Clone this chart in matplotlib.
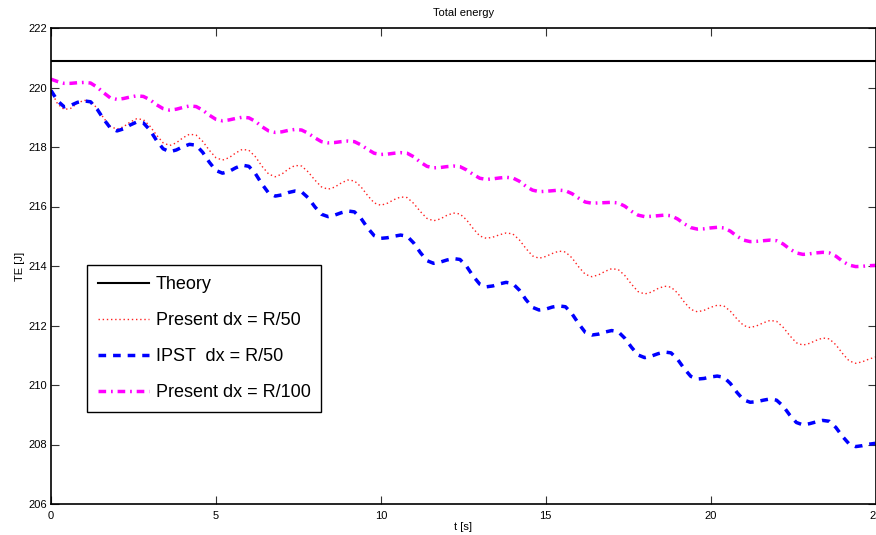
import numpy as np
import matplotlib
matplotlib.use('Agg')
import matplotlib.pyplot as plt

plt.rcParams['font.family'] = ['Liberation Sans', 'DejaVu Sans']

# time axis [s], 0.2 s steps
t = np.linspace(0., 25., 126)

theory_te = 220.89

present_r50 = [
    219.88, 219.45, 219.26, 219.30, 219.47,
    219.57, 219.54, 219.30, 218.97, 218.69, 218.60, 218.68, 218.84,
    218.95, 218.92, 218.70, 218.40, 218.14, 218.05, 218.14, 218.31,
    218.43, 218.40, 218.19, 217.89, 217.64, 217.56, 217.64, 217.80,
    217.92, 217.89, 217.67, 217.35, 217.09, 217.00, 217.09, 217.26,
    217.38, 217.36, 217.16, 216.89, 216.66, 216.58, 216.65, 216.79,
    216.89, 216.86, 216.66, 216.37, 216.12, 216.04, 216.11, 216.23,
    216.32, 216.30, 216.10, 215.83, 215.60, 215.52, 215.58, 215.70,
    215.78, 215.75, 215.55, 215.26, 215.01, 214.93, 214.97, 215.05,
    215.11, 215.08, 214.88, 214.59, 214.34, 214.26, 214.32, 214.42,
    214.50, 214.47, 214.27, 213.97, 213.72, 213.64, 213.70, 213.82,
    213.91, 213.88, 213.68, 213.39, 213.14, 213.06, 213.12, 213.24,
    213.32, 213.29, 213.09, 212.79, 212.54, 212.46, 212.51, 212.61,
    212.68, 212.66, 212.48, 212.22, 212.00, 211.93, 211.99, 212.09,
    212.17, 212.14, 211.94, 211.66, 211.42, 211.34, 211.40, 211.50,
    211.58, 211.55, 211.35, 211.06, 210.81, 210.73, 210.78, 210.87,
    210.94]

ipst_r50 = [
    219.90, 219.55, 219.35, 219.40, 219.50,
    219.55, 219.52, 219.27, 218.93, 218.64, 218.54, 218.61, 218.74,
    218.84, 218.81, 218.57, 218.22, 217.94, 217.84, 217.90, 218.01,
    218.09, 218.06, 217.82, 217.49, 217.21, 217.12, 217.18, 217.30,
    217.39, 217.35, 217.10, 216.75, 216.45, 216.35, 216.39, 216.47,
    216.52, 216.49, 216.29, 215.99, 215.74, 215.66, 215.71, 215.79,
    215.85, 215.82, 215.60, 215.28, 215.02, 214.93, 214.95, 215.00,
    215.04, 215.00, 214.77, 214.45, 214.18, 214.09, 214.13, 214.20,
    214.25, 214.22, 213.99, 213.66, 213.39, 213.30, 213.33, 213.40,
    213.45, 213.41, 213.19, 212.87, 212.61, 212.52, 212.55, 212.62,
    212.66, 212.63, 212.39, 212.06, 211.77, 211.68, 211.71, 211.78,
    211.83, 211.79, 211.57, 211.27, 211.01, 210.92, 210.97, 211.05,
    211.11, 211.08, 210.86, 210.55, 210.29, 210.20, 210.22, 210.27,
    210.30, 210.26, 210.05, 209.75, 209.50, 209.42, 209.44, 209.49,
    209.53, 209.49, 209.29, 208.99, 208.74, 208.66, 208.70, 208.76,
    208.81, 208.78, 208.57, 208.27, 208.02, 207.93, 207.96, 208.01,
    208.04]

present_r100 = [
    220.28, 220.20, 220.14, 220.14, 220.16,
    220.17, 220.15, 220.01, 219.82, 219.65, 219.60, 219.63, 219.68,
    219.72, 219.70, 219.59, 219.42, 219.29, 219.24, 219.27, 219.33,
    219.38, 219.36, 219.24, 219.07, 218.93, 218.88, 218.91, 218.96,
    219.00, 218.98, 218.86, 218.68, 218.54, 218.49, 218.51, 218.56,
    218.59, 218.57, 218.46, 218.31, 218.18, 218.14, 218.15, 218.18,
    218.20, 218.18, 218.07, 217.92, 217.79, 217.75, 217.76, 217.79,
    217.81, 217.79, 217.67, 217.49, 217.35, 217.30, 217.31, 217.34,
    217.36, 217.34, 217.23, 217.08, 216.95, 216.91, 216.93, 216.96,
    216.98, 216.96, 216.85, 216.68, 216.55, 216.50, 216.51, 216.53,
    216.55, 216.53, 216.43, 216.28, 216.15, 216.11, 216.12, 216.13,
    216.14, 216.12, 216.01, 215.84, 215.71, 215.66, 215.67, 215.69,
    215.71, 215.69, 215.58, 215.42, 215.29, 215.24, 215.25, 215.28,
    215.30, 215.28, 215.17, 215.00, 214.87, 214.82, 214.83, 214.85,
    214.87, 214.85, 214.74, 214.57, 214.44, 214.39, 214.41, 214.44,
    214.46, 214.44, 214.33, 214.16, 214.03, 213.98, 213.99, 214.01,
    214.02]

labels = ['Theory', 'Present dx = R/50', 'IPST  dx = R/50', 'Present dx = R/100']
xticks = [0, 5, 10, 15, 20, 25]
yticks = [206, 208, 210, 212, 214, 216, 218, 220, 222]


fig = plt.figure(figsize=(8.76, 5.35), dpi=100)
ax = fig.add_axes([51./876, 31./535, 824.5/876, 476./535])

ax.plot([t[0], t[-1]], [theory_te, theory_te], color='k', lw=1.5, label=labels[0])
ax.plot(t, present_r50, color='#ff2020', lw=1.0, dashes=(1.0, 2.0), label=labels[1])
ax.plot(t, ipst_r50, color='#0000ff', lw=2.5, dashes=(2.2, 2.0), label=labels[2])
ax.plot(t, present_r100, color='#ff00ff', lw=2.5, dashes=(2.2, 1.4, 0.5, 1.4), label=labels[3])

ax.set_xlim(0, 25)
ax.set_ylim(206, 222)
ax.set_xticks(xticks)
ax.set_yticks(yticks)
ax.tick_params(direction='in', top=True, right=True, length=6, width=0.8,
               labelsize=8, color='#333333')
ax.tick_params(axis='x', pad=5)
ax.tick_params(axis='y', pad=3)
for sp in ax.spines.values():
    sp.set_linewidth(1.2)

ax.set_title('Total energy', fontsize=8, pad=9)
ax.set_xlabel('t [s]', fontsize=8, labelpad=1)
ax.set_ylabel('TE [J]', fontsize=8, labelpad=2)

leg = ax.legend(loc='lower left', bbox_to_anchor=(36./825, 92./476), borderaxespad=0.,
                fontsize=13, handlelength=2.85, labelspacing=1.05, borderpad=0.6,
                handletextpad=0.35, fancybox=False, framealpha=1.0)
leg.get_frame().set_edgecolor('k')
leg.get_frame().set_linewidth(1.0)

fig.savefig('out.png', dpi=100)
